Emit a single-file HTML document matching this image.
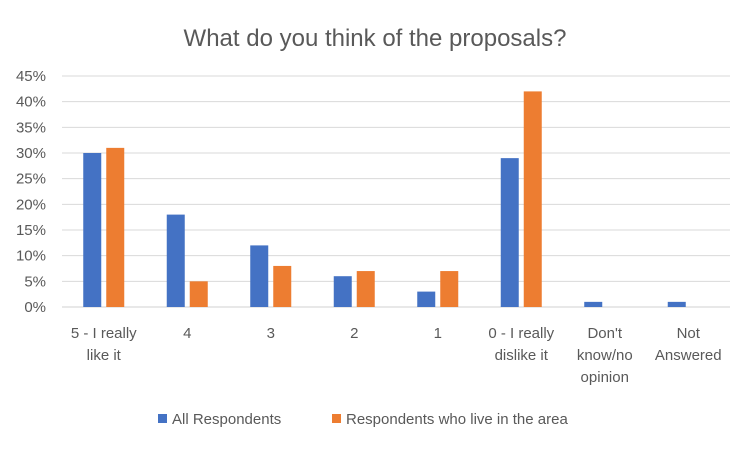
<!DOCTYPE html>
<html><head><meta charset="utf-8"><style>
body{margin:0;background:#fff;}
svg text{font-family:"Liberation Sans",Calibri,sans-serif;fill:#595959;}
</style></head><body>
<svg width="750" height="449" viewBox="0 0 750 449">
<rect width="750" height="449" fill="#fff"/>
<text x="375" y="46" font-size="24" text-anchor="middle">What do you think of the proposals?</text>
<g id="grid"></g><g id="bars"></g><g id="xlabels"></g>
<g>
<rect x="158" y="414" width="9" height="9" fill="#4472C4"/>
<text x="172" y="424" font-size="15">All Respondents</text>
<rect x="332" y="414" width="9" height="9" fill="#ED7D31"/>
<text x="346" y="424" font-size="15">Respondents who live in the area</text>
</g>
</svg>
<script>
const categories=[["5 - I really","like it"],["4"],["3"],["2"],["1"],["0 - I really","dislike it"],["Don't","know/no","opinion"],["Not","Answered"]];
const allRespondents=[30,18,12,6,3,29,1,1];
const areaRespondents=[31,5,8,7,7,42,0,0];
const yTicks=[0,5,10,15,20,25,30,35,40,45];
const NS="http://www.w3.org/2000/svg";
const x0=62,x1=730,y0=307,yTop=76,yMax=45;
const bw=(x1-x0)/categories.length;
const y=v=>y0-(v/yMax)*(y0-yTop);
function mk(tag,attrs,parent){const e=document.createElementNS(NS,tag);for(const k in attrs)e.setAttribute(k,attrs[k]);parent.appendChild(e);return e;}
const grid=document.getElementById('grid'),bars=document.getElementById('bars'),xl=document.getElementById('xlabels');
yTicks.forEach(t=>{
 const l=mk('line',{x1:x0,x2:x1,y1:y(t),y2:y(t),stroke:t===0?'#d0d0d0':'#d9d9d9','stroke-width':1},grid);
 
 
 const tx=mk('text',{x:46,y:y(t)+5,'font-size':15,'text-anchor':'end'},grid);
 tx.textContent=t+'%';
 
 
});
categories.forEach((c,i)=>{
 const cx=x0+bw*(i+0.5);
 const b1=mk('rect',{x:cx-20.5,y:y(allRespondents[i]),width:18,height:y0-y(allRespondents[i]),fill:'#4472C4'},bars);
 
 
 const b2=mk('rect',{x:cx+2.5,y:y(areaRespondents[i]),width:18,height:y0-y(areaRespondents[i]),fill:'#ED7D31'},bars);
 
 
 c.forEach((line,j)=>{
  const t=mk('text',{x:cx,y:338+j*22,'font-size':15,'text-anchor':'middle'},xl);
  t.textContent=line;
  
  
 });
});
</script>
</body></html>
